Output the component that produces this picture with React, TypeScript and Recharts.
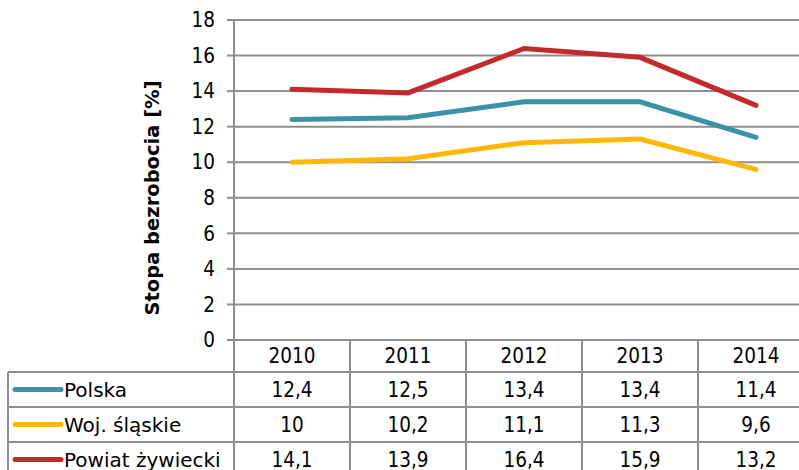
import { LineChart, Line, XAxis, YAxis, CartesianGrid } from "recharts";

const years = ["2010", "2011", "2012", "2013", "2014"];
const polska = [12.4, 12.5, 13.4, 13.4, 11.4];
const slaskie = [10, 10.2, 11.1, 11.3, 9.6];
const zywiecki = [14.1, 13.9, 16.4, 15.9, 13.2];
const yTicks = [0, 2, 4, 6, 8, 10, 12, 14, 16, 18];

const seriesList = [
  { key: "polska", name: "Polska", color: "#3A91A8", values: polska },
  { key: "slaskie", name: "Woj. śląskie", color: "#FFB80A", values: slaskie },
  { key: "zywiecki", name: "Powiat żywiecki", color: "#C4292C", values: zywiecki },
];

const data = years.map((year, i) => ({
  year,
  polska: polska[i],
  slaskie: slaskie[i],
  zywiecki: zywiecki[i],
}));

const CHART_W = 814;
const CHART_H = 480;
const AXIS_W = 234;
const TABLE_LEFT = 8;
const BAND = (CHART_W - AXIS_W) / years.length;
const GRID = "#8E8E8E";
const FONT = "'DejaVu Sans Condensed', 'DejaVu Sans', sans-serif";
const LABEL_FONT = "'DejaVu Sans', sans-serif";
const FS = 20.5;
// header row, then one row per series
const ROW_EDGES = [0, 32, 67, 102, 137];

const fmt = (v: number) => String(v).replace(".", ",");

function TableTick(props: any) {
  const { x, y, payload, index } = props;
  const left = x - BAND / 2;
  const right = x + BAND / 2;
  const bottom = y + ROW_EDGES[ROW_EDGES.length - 1];
  const rowMid = (r: number) => y + (ROW_EDGES[r] + ROW_EDGES[r + 1]) / 2;
  return (
    <g>
      <line x1={left} y1={y} x2={left} y2={bottom} stroke={GRID} strokeWidth={2} />
      <line x1={right} y1={y} x2={right} y2={bottom} stroke={GRID} strokeWidth={2} />
      {ROW_EDGES.slice(1, -1).map((e) => (
        <line key={e} x1={left} y1={y + e} x2={right} y2={y + e} stroke={GRID} strokeWidth={2} />
      ))}
      <text x={x} y={rowMid(0)} dy={7} textAnchor="middle" fontSize={FS} fontFamily={FONT} fill="#000">
        {payload.value}
      </text>
      {seriesList.map((s, r) => (
        <text key={s.key} x={x} y={rowMid(r + 1)} dy={7} textAnchor="middle" fontSize={FS} fontFamily={FONT} fill="#000">
          {fmt(s.values[index])}
        </text>
      ))}
      {index === 0 && (
        <g>
          <line x1={TABLE_LEFT} y1={y + ROW_EDGES[1]} x2={TABLE_LEFT} y2={bottom} stroke={GRID} strokeWidth={2} />
          {ROW_EDGES.slice(1, -1).map((e) => (
            <line key={e} x1={TABLE_LEFT} y1={y + e} x2={left} y2={y + e} stroke={GRID} strokeWidth={2} />
          ))}
          {seriesList.map((s, r) => (
            <g key={s.key}>
              <line x1={15} y1={rowMid(r + 1)} x2={61} y2={rowMid(r + 1)} stroke={s.color} strokeWidth={5} strokeLinecap="round" />
              <text x={64} y={rowMid(r + 1)} dy={7} fontSize={20} fontFamily={LABEL_FONT} fill="#000">
                {s.name}
              </text>
            </g>
          ))}
        </g>
      )}
    </g>
  );
}

function YLabel(props: any) {
  const { viewBox } = props;
  const cx = 152;
  const cy = viewBox.y + viewBox.height / 2 + 18;
  return (
    <text
      x={cx}
      y={cy}
      transform={`rotate(-90, ${cx}, ${cy})`}
      textAnchor="middle"
      dominantBaseline="central"
      fontSize={19.5}
      fontWeight="bold"
      fontFamily={LABEL_FONT}
      fill="#000"
    >
      Stopa bezrobocia [%]
    </text>
  );
}

export default function App() {
  return (
    <div style={{ position: "absolute", left: 0, top: 0, width: 799, height: 470, overflow: "hidden", background: "#fff" }}>
      <LineChart width={CHART_W} height={CHART_H} data={data} margin={{ top: 20, right: 0, bottom: 0, left: 0 }}>
        <CartesianGrid vertical={false} stroke={GRID} strokeWidth={2} />
        <XAxis
          dataKey="year"
          height={140}
          padding={{ left: BAND / 2, right: BAND / 2 }}
          axisLine={false}
          tickLine={false}
          tickSize={0}
          tickMargin={0}
          interval={0}
          tick={<TableTick />}
        />
        <YAxis
          width={AXIS_W}
          domain={[0, 18]}
          ticks={yTicks}
          interval={0}
          axisLine={{ stroke: GRID, strokeWidth: 2 }}
          tickLine={{ stroke: GRID, strokeWidth: 2 }}
          tickSize={7}
          tickMargin={12}
          tick={{ fontSize: FS, fontFamily: FONT, fill: "#000" }}
          label={<YLabel />}
        />
        {seriesList.map((s) => (
          <Line
            key={s.key}
            dataKey={s.key}
            name={s.name}
            stroke={s.color}
            strokeWidth={5}
            dot={false}
            activeDot={false}
            strokeLinecap="round"
            isAnimationActive={false}
          />
        ))}
      </LineChart>
    </div>
  );
}
